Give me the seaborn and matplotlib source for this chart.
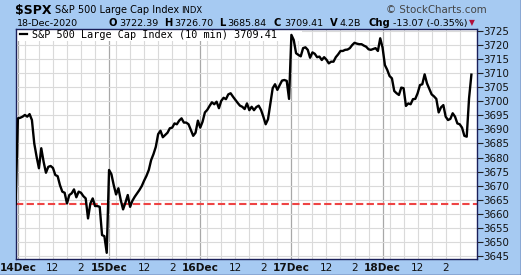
import numpy as np
import pandas as pd
import matplotlib
matplotlib.use("Agg")
import matplotlib.pyplot as plt
import seaborn as sns
from matplotlib.lines import Line2D

# ---------------- data ----------------
days = ["14Dec", "15Dec", "16Dec", "17Dec", "18Dec"]
bars_per_day = 39            # 10-minute bars, 9:30-16:00
prev_close = 3663.46         # 11-Dec close (reference line)

dec14 = [3693.9, 3694.1, 3694.5, 3695.1, 3694.5, 3695.4, 3693.3, 3685.0, 3680.3, 3676.2,
         3683.3, 3678.5, 3674.6, 3676.7, 3677.0, 3676.3, 3673.8, 3673.4, 3670.2, 3667.9,
         3667.5, 3663.7, 3666.7, 3667.3, 3668.7, 3665.9, 3667.9, 3667.5, 3666.3, 3665.5,
         3658.4, 3663.7, 3665.5, 3662.8, 3662.8, 3662.5, 3652.5, 3652.1, 3646.2]
dec15 = [3675.6, 3674.1, 3670.2, 3666.9, 3669.1, 3664.9, 3661.6, 3664.0, 3666.7, 3662.5,
         3664.7, 3666.1, 3667.3, 3668.5, 3669.9, 3671.8, 3673.5, 3675.6, 3679.1, 3681.2,
         3683.8, 3688.3, 3689.5, 3687.2, 3688.0, 3688.8, 3690.4, 3690.6, 3692.1, 3691.8,
         3693.1, 3693.9, 3692.4, 3692.4, 3691.8, 3689.8, 3687.7, 3688.8, 3693.1]
dec16 = [3690.6, 3692.7, 3696.0, 3696.9, 3698.3, 3699.6, 3698.9, 3699.8, 3697.5, 3700.1,
         3701.2, 3700.7, 3702.4, 3702.8, 3701.6, 3700.5, 3699.4, 3698.4, 3698.0, 3697.2,
         3699.2, 3696.8, 3698.0, 3696.8, 3697.9, 3698.4, 3696.9, 3694.5, 3691.8, 3693.6,
         3699.2, 3704.6, 3706.0, 3704.0, 3705.7, 3707.3, 3707.5, 3707.2, 3700.8]
dec17 = [3723.5, 3721.7, 3717.0, 3716.4, 3715.9, 3718.8, 3719.1, 3718.2, 3715.4, 3717.3,
         3716.8, 3715.6, 3715.8, 3714.6, 3715.6, 3714.7, 3713.4, 3714.0, 3714.0, 3715.6,
         3716.6, 3717.8, 3717.8, 3718.2, 3718.3, 3718.8, 3719.9, 3720.7, 3720.4, 3720.2,
         3720.2, 3719.7, 3719.3, 3718.4, 3718.2, 3718.5, 3718.8, 3717.8, 3722.3]
dec18 = [3719.0, 3712.8, 3711.1, 3708.9, 3708.1, 3703.6, 3702.8, 3702.2, 3704.8, 3704.6,
         3698.3, 3699.2, 3698.9, 3700.7, 3700.8, 3702.8, 3705.7, 3706.0, 3709.5, 3706.3,
         3704.3, 3702.4, 3701.7, 3700.8, 3696.0, 3697.8, 3698.6, 3694.5, 3693.3, 3693.7,
         3695.7, 3694.5, 3692.1, 3691.8, 3690.6, 3687.7, 3687.4, 3701.0, 3709.41]

y_ticks = [3645, 3650, 3655, 3660, 3665, 3670, 3675, 3680, 3685, 3690,
           3695, 3700, 3705, 3710, 3715, 3720, 3725]
hour_labels = ["12", "2"]
hour_offsets = [15, 27]          # bars after open for 12:00 and 14:00
grid_hour_offsets = [3, 9, 15, 21, 27, 33]

series = [dec14, dec15, dec16, dec17, dec18]
prices = [prev_close] + [v for s in series for v in s]
idx = list(range(-1, len(prices) - 1))
df = pd.DataFrame({"bar": idx, "price": prices})

# ---------------- figure ----------------
W, H = 521, 275
BG = "#A6CAF2"
fig = plt.figure(figsize=(W / 100, H / 100), dpi=100, facecolor=BG)
ax = fig.add_axes([16 / W, 1 - 259.3 / H, (477 - 16) / W, (259.3 - 28.7) / H])
ax.set_facecolor("white")

# grid
for d in range(len(days)):
    for o in grid_hour_offsets:
        ax.axvline(d * bars_per_day + o, color="#DADADA", lw=0.8, zorder=0)
    ax.axvline(d * bars_per_day, color="#A8A8A8", lw=0.9, zorder=0)
for v in y_ticks:
    ax.axhline(v, color="#DADADA", lw=0.8, zorder=0)

# legend band
ax.add_patch(plt.Rectangle((0, 1 - 12 / 230.6), 0.62, 12 / 230.6, transform=ax.transAxes,
                           facecolor="white", edgecolor="none", zorder=1))

ax.axhline(prev_close, color="#EE4444", lw=1.5, ls=(0, (3.5, 1.6)), zorder=2)
sns.lineplot(data=df, x="bar", y="price", ax=ax, color="black", lw=1.7, zorder=3,
             estimator=None, sort=False)

ax.set_xlim(-0.81, 196.4)
ax.set_ylim(3643.9, 3725.7)
ax.set_xlabel("")
ax.set_ylabel("")

# y axis on right
ax.yaxis.tick_right()
ax.set_yticks(y_ticks)
ax.set_yticklabels([str(v) for v in y_ticks], fontsize=7.4, color="#111111")
ax.tick_params(axis="y", length=4, width=0.8, pad=0.5, color="#222222")

# x ticks
xt, xl, xw = [], [], []
for d, name in enumerate(days):
    xt.append(d * bars_per_day); xl.append(name); xw.append("bold")
    for o, lab in zip(hour_offsets, hour_labels):
        xt.append(d * bars_per_day + o); xl.append(lab); xw.append("normal")
ax.set_xticks(xt)
ax.set_xticklabels(xl, fontsize=7.6, color="#111111")
for t, w in zip(ax.get_xticklabels(), xw):
    t.set_fontweight(w)
ax.tick_params(axis="x", length=0, pad=3)

for s in ax.spines.values():
    s.set_color("#1A1F5A")
    s.set_linewidth(1.0)
ax.grid(False)

# legend inside plot
fig.add_artist(Line2D([19.5 / W, 26.5 / W], [1 - 34.3 / H, 1 - 34.3 / H], color="black", lw=1.6))
fig.text(31.5 / W, 1 - 38.5 / H, "S&P 500 Large Cap Index (10 min) 3709.41",
         fontsize=7.3, family="DejaVu Sans Mono", color="black", va="baseline")

# header
def T(x, y, s, **kw):
    fig.text(x / W, 1 - y / H, s, va="baseline", **kw)

T(15, 13.6, "$SPX", fontsize=9.0, fontweight="bold", color="black")
T(55, 13.2, "S&P 500 Large Cap Index", fontsize=7.0, color="black")
T(181, 13.2, "INDX", fontsize=6.0, color="black")
T(487, 12.8, "© StockCharts.com", fontsize=7.4, color="#444444", ha="right")

T(16.5, 25.8, "18-Dec-2020", fontsize=6.8, color="black")
pieces = [(108.3, "O", True), (119, "3722.39", False), (164, "H", True), (174, "3726.70", False),
          (219, "L", True), (227.7, "3685.84", False), (273.3, "C", True), (284, "3709.41", False),
          (330, "V", True), (340, "4.2B", False), (368.3, "Chg", True), (393.3, "-13.07 (-0.35%)", False)]
for x, s, b in pieces:
    T(x, 25.8, s, fontsize=6.8 if not b else 7.2, fontweight="bold" if b else "normal", color="black")
T(471.7, 25.0, "▼", fontsize=5.5, color="#B0103A", ha="center")

# outer border (right/bottom)
fig.add_artist(Line2D([0, 1], [0.5 / H, 0.5 / H], color="#1A1F5A", lw=1.0))
fig.add_artist(Line2D([1 - 0.5 / W, 1 - 0.5 / W], [0, 1], color="#1A1F5A", lw=1.0))

fig.savefig("out.png", dpi=100, facecolor=BG)
